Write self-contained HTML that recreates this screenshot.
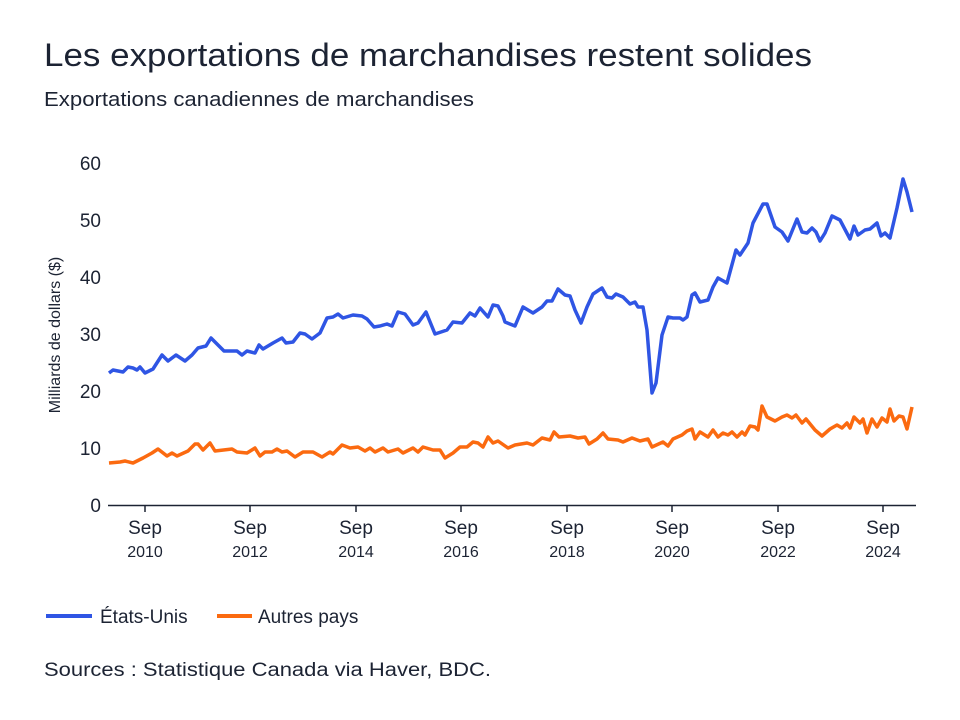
<!DOCTYPE html>
<html><head><meta charset="utf-8"><style>
body{margin:0;background:#fff;}
svg{display:block;font-family:"Liberation Sans",sans-serif;}
</style></head><body>
<svg width="960" height="720" viewBox="0 0 960 720">
<rect width="960" height="720" fill="#fff"/>
<text x="44" y="66" font-size="32" fill="#1c2333" textLength="768" lengthAdjust="spacingAndGlyphs">Les exportations de marchandises restent solides</text>
<text x="44" y="106" font-size="20" fill="#1c2333" textLength="430" lengthAdjust="spacingAndGlyphs">Exportations canadiennes de marchandises</text>
<g font-size="19" fill="#1c2333" text-anchor="end">
<text x="101" y="512">0</text><text x="101" y="455">10</text><text x="101" y="398">20</text><text x="101" y="341">30</text><text x="101" y="284">40</text><text x="101" y="227">50</text><text x="101" y="170">60</text>
</g>
<text transform="translate(60,335) rotate(-90)" font-size="16" fill="#1c2333" text-anchor="middle">Milliards de dollars ($)</text>
<line x1="108" y1="505.5" x2="916" y2="505.5" stroke="#1c2333" stroke-width="1.5"/>
<g stroke="#1c2333" stroke-width="1.5">
<line x1="145" y1="505" x2="145" y2="512"/><line x1="250" y1="505" x2="250" y2="512"/><line x1="356" y1="505" x2="356" y2="512"/><line x1="461" y1="505" x2="461" y2="512"/><line x1="567" y1="505" x2="567" y2="512"/><line x1="672" y1="505" x2="672" y2="512"/><line x1="778" y1="505" x2="778" y2="512"/><line x1="883" y1="505" x2="883" y2="512"/>
</g>
<g font-size="19" fill="#1c2333" text-anchor="middle">
<text x="145" y="534">Sep</text><text x="250" y="534">Sep</text><text x="356" y="534">Sep</text><text x="461" y="534">Sep</text><text x="567" y="534">Sep</text><text x="672" y="534">Sep</text><text x="778" y="534">Sep</text><text x="883" y="534">Sep</text>
</g>
<g font-size="16" fill="#1c2333" text-anchor="middle">
<text x="145" y="557">2010</text><text x="250" y="557">2012</text><text x="356" y="557">2014</text><text x="461" y="557">2016</text><text x="567" y="557">2018</text><text x="672" y="557">2020</text><text x="778" y="557">2022</text><text x="883" y="557">2024</text>
</g>
<polyline fill="none" stroke="#2f55e4" stroke-width="3.5" stroke-linejoin="round" points="109,373 113,370 123,372 128,367 133,368 137,370 140,367 145,373 153,369 162,355 168,361 176,355 185,361 192,355 198,348 206,346 211,338 217,344 224,351 237,351 242,355 247,351 255,353 259,345 263,349 273,343 282,338 286,343 293,342 300,333 305,334 312,339 320,333 327,318 333,317 338,314 343,318 353,315 362,316 367,319 374,327 380,326 387,324 392,326 398,312 405,314 413,325 418,323 426,312 435,334 447,330 453,322 462,323 470,313 475,316 480,308 488,317 493,305 498,306 503,316 505,322 515,326 523,307 533,313 542,307 547,301 552,301 558,289 565,295 570,296 575,310 581,323 587,307 593,294 602,288 607,297 612,298 616,294 623,297 630,304 635,302 638,307 643,307 647,330 652,393 656,383 662,335 668,317 673,318 680,318 683,320 687,317 692,295 695,293 700,302 708,300 713,287 718,278 727,283 736,250 740,255 748,243 753,223 763,204 767,204 775,227 782,232 788,241 797,219 802,232 807,233 812,228 816,232 820,241 825,233 832,216 840,220 850,239 854,226 858,235 865,230 870,229 877,223 881,236 885,233 890,238 897,208 903,179 907,192 912,212"/>
<polyline fill="none" stroke="#fb6a10" stroke-width="3.5" stroke-linejoin="round" points="109,463 120,462 125,461 133,463 143,458 152,453 158,449 167,456 172,453 177,456 188,451 195,444 198,444 203,450 210,443 215,451 232,449 237,452 247,453 255,448 260,456 265,452 272,452 277,449 282,452 287,451 295,457 303,452 313,452 322,457 330,452 333,454 342,445 350,448 358,447 365,451 370,448 375,452 383,448 388,452 398,449 403,453 413,448 418,452 423,447 433,450 440,450 445,458 453,453 460,447 467,447 473,442 478,443 483,447 488,437 493,443 498,441 508,448 515,445 527,443 533,445 542,438 550,440 554,432 559,437 570,436 578,438 585,437 589,444 597,439 603,433 608,439 618,440 623,442 632,438 640,441 648,439 652,447 663,442 668,446 673,439 682,435 687,431 692,429 695,439 700,432 708,437 713,430 718,437 723,433 728,435 732,432 737,437 742,432 745,435 750,426 755,427 758,430 762,406 767,417 775,421 782,417 787,415 792,418 796,415 802,423 806,419 815,430 822,436 830,429 837,425 842,428 847,423 850,428 854,417 860,423 863,419 867,433 872,419 877,427 882,418 887,422 890,409 894,421 899,416 903,417 907,429 912,407"/>
<line x1="46" y1="616" x2="92" y2="616" stroke="#2f55e4" stroke-width="4"/>
<text x="100" y="623" font-size="19" fill="#1c2333">États-Unis</text>
<line x1="217" y1="616" x2="252" y2="616" stroke="#fb6a10" stroke-width="4"/>
<text x="258" y="623" font-size="19" fill="#1c2333">Autres pays</text>
<text x="44" y="676" font-size="19" fill="#1c2333" textLength="447" lengthAdjust="spacingAndGlyphs">Sources : Statistique Canada via Haver, BDC.</text>
</svg>
</body></html>
